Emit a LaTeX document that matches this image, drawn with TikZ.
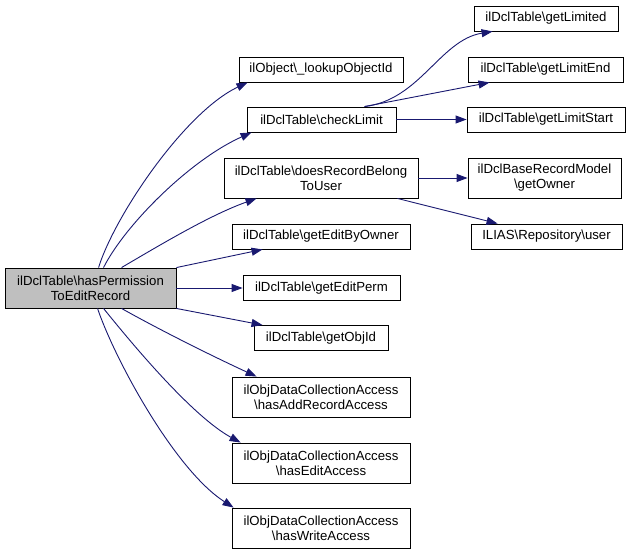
\documentclass[tikz,border=0pt]{standalone}
\usepackage{fontspec}
\setmainfont{Liberation Sans}
\usetikzlibrary{arrows.meta}
\definecolor{edgecol}{RGB}{25,25,112}
\definecolor{mainfill}{RGB}{191,191,191}
\newcommand{\bs}{\textbackslash}
\begin{document}
\begin{tikzpicture}[x=1pt,y=-1pt,
  box/.style={draw=black,line width=0.9pt,fill=white,inner sep=0pt,align=center,
    font=\fontsize{13.2}{15}\selectfont,minimum height=25pt},
  tall/.style={box,minimum height=40pt},
  edge/.style={draw=edgecol,line width=0.9pt,-{Triangle[length=11pt,width=8pt]}}]
\useasboundingbox (0,0) rectangle (631,554);
% nodes
\node[tall,fill=mainfill,minimum width=171pt] (main) at (90.5,288) {ilDclTable\bs hasPermission\\ToEditRecord};
\node[box,minimum width=164pt] (lookup) at (321,69.5) {ilObject\bs\_lookupObjectId};
\node[box,minimum width=149pt] (check) at (321.5,119.5) {ilDclTable\bs checkLimit};
\node[tall,minimum width=194pt] (does) at (321,178) {ilDclTable\bs doesRecordBelong\\ToUser};
\node[box,minimum width=178pt] (ebo) at (321,236.5) {ilDclTable\bs getEditByOwner};
\node[box,minimum width=157pt] (ep) at (321.5,288) {ilDclTable\bs getEditPerm};
\node[box,minimum width=134pt] (obj) at (321,338) {ilDclTable\bs getObjId};
\node[tall,minimum width=178pt] (add) at (321,397) {ilObjDataCollectionAccess\\\bs hasAddRecordAccess};
\node[tall,minimum width=178pt] (edit) at (321,463) {ilObjDataCollectionAccess\\\bs hasEditAccess};
\node[tall,minimum width=178pt] (write) at (321,528) {ilObjDataCollectionAccess\\\bs hasWriteAccess};
\node[box,minimum width=144pt] (gl) at (546,18.5) {ilDclTable\bs getLimited};
\node[box,minimum width=155pt] (gle) at (545.5,69.5) {ilDclTable\bs getLimitEnd};
\node[box,minimum width=158pt] (gls) at (546,119.5) {ilDclTable\bs getLimitStart};
\node[tall,minimum width=153pt] (own) at (544.5,178) {ilDclBaseRecordModel\\\bs getOwner};
\node[box,minimum width=151pt] (user) at (546.5,236.5) {ILIAS\bs Repository\bs user};
% edges
\draw[edge] ([xshift=94pt]main.north west) .. controls (115,215) and (185,112) .. ([xshift=9pt]lookup.south west);
\draw[edge] ([xshift=99pt]main.north west) .. controls (125,225) and (190,160) .. ([xshift=5pt]check.south west);
\draw[edge] ([xshift=117pt]main.north west) .. controls (160,245) and (210,215) .. ([xshift=33pt]does.south west);
\draw[edge] (main.north east) -- ([xshift=31pt]ebo.south west);
\draw[edge] (main.east) -- (ep.west);
\draw[edge] (main.south east) -- ([xshift=9pt]obj.north west);
\draw[edge] ([xshift=117pt]main.south west) .. controls (160,330) and (210,355) .. ([xshift=25pt]add.north west);
\draw[edge] ([xshift=99pt]main.south west) .. controls (125,335) and (190,415) .. ([xshift=9pt]edit.north west);
\draw[edge] ([xshift=93pt]main.south west) .. controls (115,360) and (175,470) .. ([xshift=2pt]write.north west);
\draw[edge] ([xshift=118pt]check.north west) .. controls (420,100) and (440,40) .. ([xshift=19pt]gl.south west);
\draw[edge] ([xshift=118pt]check.north west) -- ([xshift=22pt]gle.south west);
\draw[edge] (check.east) -- (gls.west);
\draw[edge] (does.east) -- (own.west);
\draw[edge] ([xshift=-21pt]does.south east) -- ([xshift=27pt]user.north west);
\end{tikzpicture}
\end{document}
